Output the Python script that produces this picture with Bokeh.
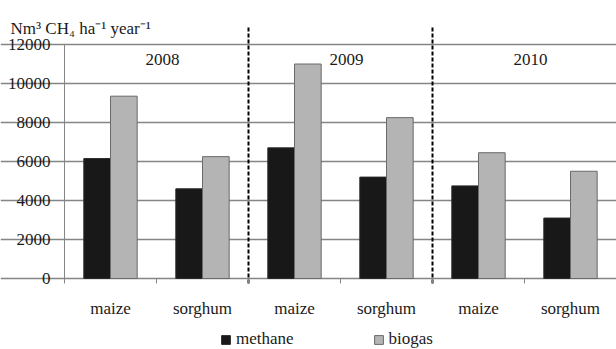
from bokeh.plotting import figure
from bokeh.models import (Range1d, FixedTicker, Label, Legend, LegendItem,
                          ColumnDataSource)
from bokeh.transform import dodge
from bokeh.core.properties import value
from bokeh.embed import file_html
from bokeh.resources import INLINE

# ---- data -------------------------------------------------------------
years = ["2008", "2009", "2010"]
crops = ["maize", "sorghum"]
series_names = ["methane", "biogas"]
methane = [6150, 4600, 6700, 5200, 4750, 3100]
biogas = [9350, 6250, 11000, 8250, 6450, 5500]
y_ticks = [0, 2000, 4000, 6000, 8000, 10000, 12000]
y_title = "Nm³ CH₄ ha⁻¹ year⁻¹"

# ---- layout (pixels) --------------------------------------------------
W, H = 616, 349
AX_X = 64        # pixel x of the value axis
RIGHT_X = 616    # pixel x of the right end of the categories
ZERO_Y = 278     # pixel y of value 0
TOP_Y = 44       # pixel y of top tick
DASH_TOP_Y = 25  # pixel y where separators start
DASH_BOT_Y = 283

# ---- style ------------------------------------------------------------
FONT = "Liberation Serif"
FS = "17px"
TXT = "#1a1a1a"
GRID = "#858585"

n = len(years) * len(crops)
labels = [c for _ in years for c in crops]
centers = [i + 0.5 for i in range(n)]

px_x = (RIGHT_X - AX_X) / n
px_y = (ZERO_Y - TOP_Y) / y_ticks[-1]
x_range = Range1d(-AX_X / px_x, (W - AX_X) / px_x)
y_range = Range1d(-(H - ZERO_Y) / px_y, ZERO_Y / px_y)

p = figure(width=W, height=H, output_backend="svg", toolbar_location=None,
           x_range=x_range, y_range=y_range,
           min_border_left=0, min_border_right=0, min_border_top=0,
           min_border_bottom=0)
p.outline_line_color = None
p.background_fill_color = "white"
p.border_fill_color = "white"

src = ColumnDataSource(dict(x=centers, methane=methane, biogas=biogas))
bw = 0.29
off = 0.145
r1 = p.vbar(x=dodge("x", -off, range=p.x_range), top="methane", bottom=0, width=bw,
            fill_color="#181818", line_color="#2a2a2a", line_width=1, source=src)
r2 = p.vbar(x=dodge("x", off, range=p.x_range), top="biogas", bottom=0, width=bw,
            fill_color="#b4b4b4", line_color="#6a6a6a", line_width=1, source=src)

# grid
p.xgrid.grid_line_color = None
p.ygrid.ticker = FixedTicker(ticks=y_ticks)
p.ygrid.bounds = (0, n)
p.ygrid.grid_line_color = GRID
p.ygrid.grid_line_width = 1.3

# y axis
ya = p.yaxis[0]
ya.fixed_location = 0
ya.ticker = FixedTicker(ticks=y_ticks)
ya.bounds = (y_ticks[0], y_ticks[-1])
ya.axis_line_color = GRID
ya.major_tick_line_color = GRID
ya.major_tick_in = 0
ya.major_tick_out = 4
ya.minor_tick_line_color = None
ya.major_label_standoff = 10
ya.major_label_text_font = FONT
ya.major_label_text_font_size = FS
ya.major_label_text_color = TXT

# x axis
xa = p.xaxis[0]
xa.fixed_location = 0
xa.ticker = FixedTicker(ticks=centers, minor_ticks=list(range(n + 1)))
xa.major_label_overrides = {c: l for c, l in zip(centers, labels)}
xa.axis_line_color = None
xa.major_tick_line_color = None
xa.minor_tick_line_color = GRID
xa.minor_tick_in = 0
xa.minor_tick_out = 5
xa.major_label_standoff = 14
xa.major_label_text_font = FONT
xa.major_label_text_font_size = FS
xa.major_label_text_color = TXT

# dashed year separators
seps = [g * len(crops) for g in range(1, len(years))]
p.segment(x0=seps, x1=seps,
          y0=[(ZERO_Y - DASH_BOT_Y) / px_y] * len(seps),
          y1=[(ZERO_Y - DASH_TOP_Y) / px_y] * len(seps),
          line_color="black", line_dash="4 2", line_width=2)

# year labels
p.text(x=[g * len(crops) + len(crops) / 2 for g in range(len(years))],
       y=[y_ticks[-1]] * len(years), text=years,
       x_offset=6, y_offset=15, text_align="center", text_baseline="middle",
       text_font=value(FONT), text_font_size=FS, text_color=TXT)

# y title
p.add_layout(Label(x=10, y=H - 28, x_units="screen", y_units="screen",
                   text=y_title, text_align="left", text_baseline="alphabetic",
                   text_font=FONT, text_font_size=FS, text_color=TXT))

# legend
legend = Legend(items=[LegendItem(label=series_names[0], renderers=[r1]),
                       LegendItem(label=series_names[1], renderers=[r2])],
                location=(220, 0), orientation="horizontal",
                glyph_width=11, glyph_height=11, label_standoff=5, spacing=79,
                padding=0, margin=0, border_line_color=None,
                background_fill_alpha=0,
                label_text_font=FONT, label_text_font_size=FS,
                label_text_color=TXT)
p.add_layout(legend)

open("out.html", "w").write(file_html(p, INLINE))
